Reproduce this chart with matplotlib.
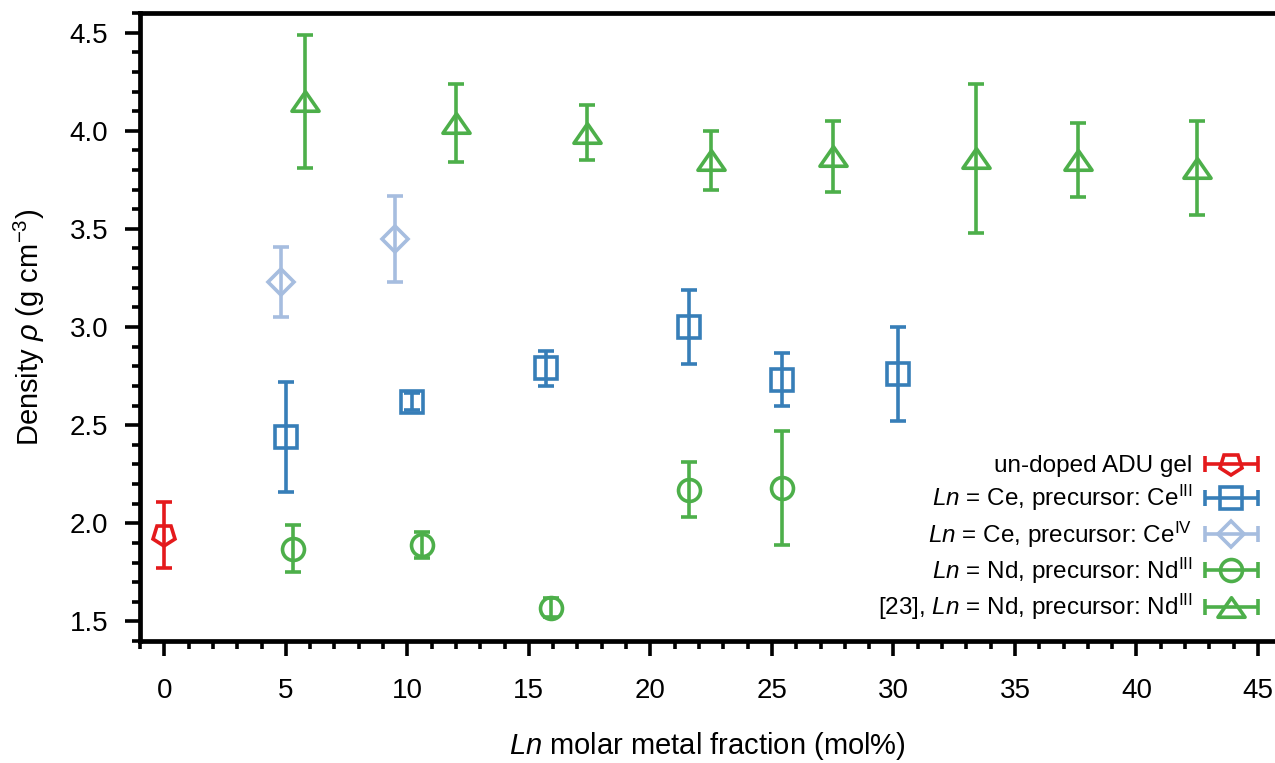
import numpy as np
import matplotlib
matplotlib.use("Agg")
import matplotlib.pyplot as plt
from matplotlib.markers import MarkerStyle
from matplotlib.path import Path
from matplotlib.transforms import Affine2D
from matplotlib.legend_handler import HandlerErrorbar
from matplotlib.ticker import MultipleLocator

plt.rcParams['font.family'] = ['Liberation Sans', 'DejaVu Sans']
plt.rcParams['mathtext.fontset'] = 'custom'
plt.rcParams['mathtext.rm'] = 'Liberation Sans'
plt.rcParams['mathtext.it'] = 'Liberation Sans:italic'
plt.rcParams['mathtext.bf'] = 'Liberation Sans:bold'

# un-doped gel
x_adu = [0.0]
y_adu = [1.94]
e_adu = [0.17]

# Ce, Ce(III) precursor
x_ce3 = [5.0, 10.2, 15.7, 21.6, 25.4, 30.2]
y_ce3 = [2.44, 2.62, 2.79, 3.00, 2.73, 2.76]
e_ce3 = [0.28, 0.045, 0.09, 0.19, 0.135, 0.24]

# Ce, Ce(IV) precursor
x_ce4 = [4.8, 9.5]
y_ce4 = [3.23, 3.45]
e_ce4 = [0.18, 0.22]

# Nd, Nd(III) precursor
x_nd = [5.3, 10.6, 15.9, 21.6, 25.4]
y_nd = [1.87, 1.89, 1.57, 2.17, 2.18]
e_nd = [0.12, 0.065, 0.05, 0.14, 0.29]

# Nd, literature values [23]
x_lit = [5.8, 12.0, 17.4, 22.5, 27.5, 33.4, 37.6, 42.5]
y_lit = [4.15, 4.04, 3.99, 3.85, 3.87, 3.86, 3.85, 3.81]
e_lit = [0.34, 0.20, 0.14, 0.15, 0.18, 0.38, 0.19, 0.24]

labels = ['un-doped ADU gel',
          r'$\mathit{Ln}$ = Ce, precursor: Ce$^{\mathrm{III}}$',
          r'$\mathit{Ln}$ = Ce, precursor: Ce$^{\mathrm{IV}}$',
          r'$\mathit{Ln}$ = Nd, precursor: Nd$^{\mathrm{III}}$',
          r'[23], $\mathit{Ln}$ = Nd, precursor: Nd$^{\mathrm{III}}$']

red = '#e41a1c'
blue = '#377eb8'
lightblue = '#a6bddf'
green = '#4daf4a'

pentagon = MarkerStyle('p', fillstyle='none', transform=Affine2D().rotate_deg(180))
triangle = MarkerStyle(Path([(-1, -0.72), (1, -0.72), (0, 0.72), (-1, -0.72)], closed=True),
                       fillstyle='none', joinstyle='miter')

series = [
    (x_adu, y_adu, e_adu, pentagon, 16.5, red),
    (x_ce3, y_ce3, e_ce3, 's', 15.5, blue),
    (x_ce4, y_ce4, e_ce4, 'D', 13.0, lightblue),
    (x_nd, y_nd, e_nd, 'o', 15.8, green),
    (x_lit, y_lit, e_lit, triangle, 19.5, green),
]

fig = plt.figure(figsize=(12.75, 7.63), dpi=100)
ax = fig.add_axes([140 / 1275, 122 / 763, 1135 / 1275, 628 / 763])

style = dict(linestyle='none', mfc='none', mew=2.6, elinewidth=2.6,
             capsize=5.5, capthick=2.6)

handles = []
for xs, ys, es, mk, size, col in series:
    ax.errorbar(xs, ys, yerr=es, marker=mk, ms=size, color=col, mec=col, **style)
    # legend entry drawn with a horizontal bar
    h = ax.errorbar([np.nan], [np.nan], xerr=[1], marker=mk, ms=size, color=col,
                    mec=col, **style)
    handles.append(h)

ax.set_xlim(-1, 45.7)
ax.set_ylim(1.4, 4.6)
ax.xaxis.set_minor_locator(MultipleLocator(1))
ax.yaxis.set_minor_locator(MultipleLocator(0.1))
ax.set_xticks(np.arange(0, 50, 5))
ax.set_xticklabels([str(v) for v in range(0, 50, 5)])
ax.set_yticks([1.5, 2.0, 2.5, 3.0, 3.5, 4.0, 4.5])
ax.set_yticklabels(['1.5', '2.0', '2.5', '3.0', '3.5', '4.0', '4.5'])

for side in ['left', 'bottom', 'top']:
    ax.spines[side].set_linewidth(3.4)
ax.spines['right'].set_visible(False)
ax.tick_params(which='major', length=11, width=2.6, labelsize=20, pad=12, top=False, right=False)
ax.tick_params(which='minor', length=6, width=2.6, top=False, right=False)
ax.tick_params(axis='x', which='major', pad=16)

ax.set_xlabel(r'$\mathit{Ln}$ molar metal fraction (mol%)', fontsize=21, labelpad=18)
ax.set_ylabel(r'Density $\rho$ (g cm$^{-3}$)', fontsize=21, labelpad=16)

ax.legend(handles, labels, loc='lower right', bbox_to_anchor=(0.985, 0.03),
          frameon=False, markerfirst=False, fontsize=17.5, handlelength=2.2,
          handletextpad=0.5, labelspacing=0.25, borderpad=0, borderaxespad=0,
          handler_map={type(handles[0]): HandlerErrorbar(xerr_size=1.1)})

plt.savefig('out.png', dpi=100)
